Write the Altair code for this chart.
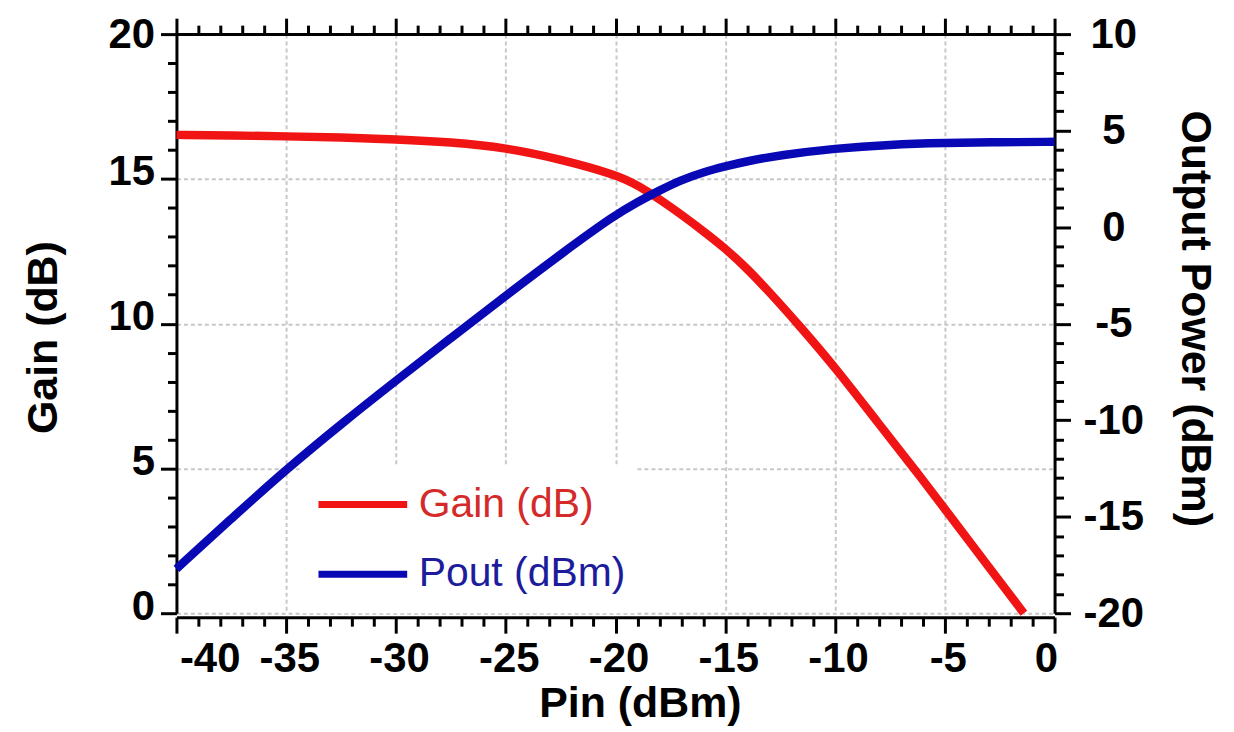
import altair as alt
import pandas as pd

# ---- data ----
pin_gain = [-40, -37.5, -35, -32.5, -30, -27.5, -25, -22.5, -20, -19, -17.5, -16, -15, -14, -13, -11.7, -10, -8, -6.4, -5, -3, -1.4]
gain_db = [16.52, 16.50, 16.47, 16.43, 16.37, 16.27, 16.08, 15.68, 15.15, 14.8, 14.05, 13.2, 12.6, 11.9, 11.1, 10.0, 8.5, 6.53, 5.0, 3.6, 1.6, 0.0]

pin_pout = [-40, -37.5, -35, -32.5, -30, -27.5, -25, -22.5, -20, -19, -18, -17, -16, -15, -14, -12.5, -10, -7.5, -5, -2.5, 0]
pout_dbm = [-17.7, -15.1, -12.55, -10.2, -7.95, -5.75, -3.55, -1.4, 0.65, 1.3, 1.9, 2.45, 2.85, 3.15, 3.42, 3.73, 4.08, 4.28, 4.36, 4.4, 4.42]

series_names = ["Gain (dB)", "Pout (dBm)"]
line_colors = ["#f01414", "#0808b4"]
text_colors = ["#d42a2a", "#1c1c9c"]

x_ticks = list(range(-40, 1))
gain_ticks = list(range(0, 21))
pout_ticks = list(range(-20, 11))

gain_df = pd.DataFrame({"pin": pin_gain, "val": gain_db, "series": series_names[0]})
pout_df = pd.DataFrame({"pin": pin_pout, "val": pout_dbm, "series": series_names[1]})

FONT = "Liberation Sans"
MAJOR = "datum.value % 5 === 0"
TICK = {"condition": {"test": MAJOR, "value": 16}, "value": 9}
LBL = f"{MAJOR} ? toString(datum.value) : ''"

common = dict(
    tickColor="black", tickWidth=3, domainColor="black", domainWidth=3,
    labelFont=FONT, labelFontSize=42, labelFontWeight="bold", labelColor="black",
    labelOverlap=False, labelExpr=LBL, tickSize=TICK,
    titleFont=FONT, titleFontSize=43, titleFontWeight="bold", titleColor="black",
)

x_bottom = alt.Axis(
    orient="bottom", values=x_ticks, offset=4, labelPadding=5, labelOffset=3,
    title="Pin (dBm)", titleX=465, titleY=100, titleBaseline="alphabetic",
    grid=True, gridColor="#c8c8c8", gridDash=[4, 3], gridWidth=2,
    gridOpacity={"condition": {"test": f"{MAJOR} && datum.value > -40 && datum.value < 0", "value": 1}, "value": 0},
    **common,
)
x_top = alt.Axis(orient="top", values=x_ticks, labels=False, title=None, grid=False,
                 **{k: v for k, v in common.items() if not k.startswith("title")})

y_left = alt.Axis(
    orient="left", values=gain_ticks, labelPadding=6,
    labelOffset={"condition": {"test": "datum.value === 20", "value": 0}, "value": -7},
    title="Gain (dB)", titleX=-111, titleY=304,
    grid=True, gridColor="#c8c8c8", gridDash=[4, 3], gridWidth=2,
    gridOpacity={"condition": {"test": f"{MAJOR} && datum.value < 20", "value": 1}, "value": 0},
    **common,
)
y_right = alt.Axis(
    orient="right", values=pout_ticks, labelPadding=43, labelAlign="center",
    title="Output Power (dBm)", titleX=118, titleY=285, grid=False,
    **common,
)

xscale = alt.Scale(domain=[-40, 0], nice=False, zero=False)

color = alt.Color(
    "series:N",
    scale=alt.Scale(domain=series_names, range=line_colors),
    legend=alt.Legend(
        title=None, orient="none", legendX=125, legendY=433,
        fillColor="white", padding=9,
        symbolType="stroke", symbolSize=7921, symbolStrokeWidth=7,
        clipHeight=60, rowPadding=10, symbolOffset=5,
        labelFont=FONT, labelFontSize=41, labelFontWeight="normal",
        labelColor={"expr": f"datum.value === '{series_names[0]}' ? '{text_colors[0]}' : '{text_colors[1]}'"},
        labelOffset=8, labelLimit=500,
    ),
)

gain_line = alt.Chart(gain_df).mark_line(strokeWidth=8.5, interpolate="basis").encode(
    x=alt.X("pin:Q", scale=xscale, axis=x_bottom),
    y=alt.Y("val:Q", scale=alt.Scale(domain=[0, 20], nice=False, zero=False), axis=y_left),
    color=color,
)

pout_line = alt.Chart(pout_df).mark_line(strokeWidth=8.5, interpolate="basis").encode(
    x=alt.X("pin:Q", scale=xscale, axis=x_top),
    y=alt.Y("val:Q", scale=alt.Scale(domain=[-20, 10], nice=False, zero=False), axis=y_right),
    color=color,
)

chart = alt.layer(gain_line, pout_line).resolve_scale(
    y="independent"
).resolve_axis(
    x="independent", y="independent"
).properties(
    width=881, height=581,
    autosize=alt.AutoSizeParams(type="none"),
    padding={"left": 169, "top": 25, "right": 172, "bottom": 120},
    background="white",
).configure_view(stroke=None)

chart.save("out.html", embed_options={"renderer": "svg", "actions": False})
